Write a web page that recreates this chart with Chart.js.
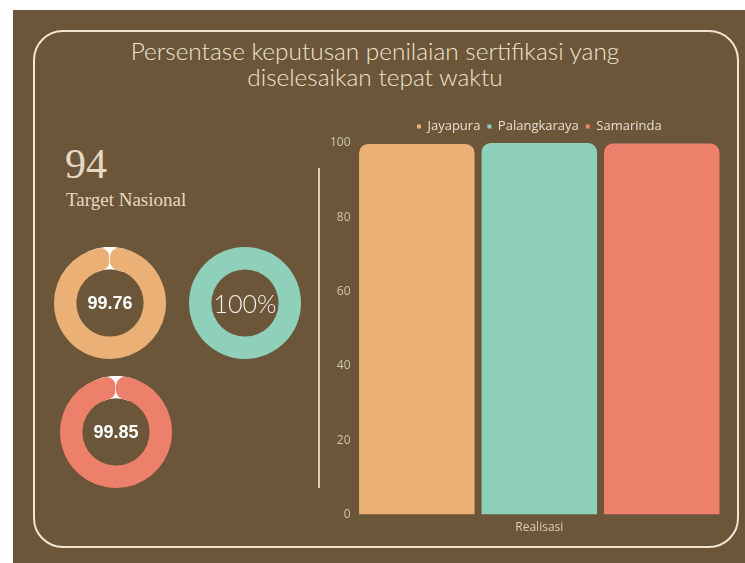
<!DOCTYPE html>
<html>
<head>
<meta charset="utf-8">
<script src="https://cdn.jsdelivr.net/npm/chart.js@4.4.1/dist/chart.umd.min.js"></script>
<style>
  html, body { margin: 0; padding: 0; background: #fff; }
  #panel { position: absolute; left: 13px; top: 10px; width: 732px; height: 553px; background: #6b563a; }
  #frame { position: absolute; left: 33px; top: 30px; width: 702px; height: 514px; border: 2px solid #efe6d3; border-radius: 30px; }
  #title { position: absolute; left: 40px; width: 670px; top: 38px; text-align: center; color: #efe4cf;
           font-family: Lato, sans-serif; font-weight: 300; font-size: 24.4px; line-height: 26px; }
  #target { position: absolute; left: 65px; top: 140px; color: #e6d8c2; font-family: "Liberation Serif", serif; font-size: 42px; }
  #targetLbl { position: absolute; left: 66px; top: 189px; color: #e6d8c2; font-family: "Liberation Serif", serif; font-size: 19px; }
  .donut { position: absolute; width: 112px; height: 112px; }
  .donut .lbl { position: absolute; left: 0; top: 0; width: 112px; line-height: 112px; text-align: center; color: #fff; }
  .bold { font-family: "Liberation Sans", Arial, sans-serif; font-weight: bold; font-size: 18px; }
  .thin { font-family: Lato, sans-serif; font-weight: 300; font-size: 25px; color: #f4efe6 !important; }
  #vline { position: absolute; left: 318px; top: 168px; width: 2px; height: 320px; background: #d9cfbd; }
  #barWrap { position: absolute; left: 300px; top: 113px; }
</style>
</head>
<body>
<div id="panel"></div>
<div id="frame"></div>
<div id="title">Persentase keputusan penilaian sertifikasi yang<br>diselesaikan tepat waktu</div>
<div id="target"></div>
<div id="targetLbl">Target Nasional</div>
<div id="vline"></div>
<div id="barWrap"><canvas id="bar" width="432" height="432"></canvas></div>
<script>
const cities = ['Jayapura', 'Palangkaraya', 'Samarinda'];
const realisasi = [99.76, 100, 99.85];
const centerLabels = ['99.76', '100%', '99.85'];
const category = ['Realisasi'];
const target = 94;
const yTicks = [0, 20, 40, 60, 80, 100];
const colors = ['#ebb075', '#8ed0b9', '#ed806a'];
const donutPos = [[54, 247], [189, 247], [60, 376]];

document.getElementById('target').textContent = target;

// white backdrop behind the gap of a doughnut ring
const gapFill = {
  id: 'gapFill',
  beforeDatasetsDraw(chart) {
    const meta = chart.getDatasetMeta(0);
    if (meta.data.length < 2 || chart.data.datasets[0].data[1] <= 0) return;
    const a = meta.data[0].getProps(['x', 'y', 'startAngle', 'endAngle', 'innerRadius', 'outerRadius']);
    const ctx = chart.ctx;
    ctx.save();
    ctx.fillStyle = '#ffffff';
    ctx.beginPath();
    ctx.arc(a.x, a.y, a.outerRadius, a.endAngle - 0.4, a.startAngle + Math.PI * 2 + 0.4);
    ctx.arc(a.x, a.y, a.innerRadius, a.startAngle + Math.PI * 2 + 0.4, a.endAngle - 0.4, true);
    ctx.closePath();
    ctx.fill();
    ctx.restore();
  }
};

cities.forEach((c, i) => {
  const box = document.createElement('div');
  box.className = 'donut';
  box.style.left = donutPos[i][0] + 'px';
  box.style.top = donutPos[i][1] + 'px';
  const cv = document.createElement('canvas');
  cv.width = 112; cv.height = 112;
  box.appendChild(cv);
  const lbl = document.createElement('div');
  lbl.className = 'lbl ' + (centerLabels[i].indexOf('%') >= 0 ? 'thin' : 'bold');
  lbl.textContent = centerLabels[i];
  box.appendChild(lbl);
  document.body.appendChild(box);

  const rest = Math.max(0, 100 - realisasi[i]);
  new Chart(cv, {
    type: 'doughnut',
    data: {
      labels: [c, ''],
      datasets: [{
        data: [realisasi[i], rest],
        backgroundColor: [colors[i], '#ffffff'],
        borderWidth: 0,
        borderRadius: rest > 0 ? [9, 0] : 0
      }]
    },
    options: {
      responsive: false,
      animation: false,
      events: [],
      cutout: '60%',
      plugins: { legend: { display: false }, tooltip: { enabled: false } }
    },
    plugins: [gapFill]
  });
});

new Chart(bar, {
  type: 'bar',
  data: {
    labels: category,
    datasets: cities.map((c, i) => ({
      label: c,
      data: [realisasi[i]],
      backgroundColor: colors[i],
      borderRadius: 9,
      barPercentage: 0.943,
      categoryPercentage: 1
    }))
  },
  options: {
    responsive: false,
    animation: false,
    events: [],
    layout: { padding: { left: 25, right: 9, top: 0, bottom: 4 } },
    plugins: {
      tooltip: { enabled: false },
      legend: {
        fullSize: false,
        labels: {
          color: '#e8dfcf',
          font: { family: 'Open Sans', size: 13 },
          boxWidth: 4, boxHeight: 4, padding: 7
        }
      }
    },
    scales: {
      x: {
        grid: { display: false, drawTicks: false }, border: { display: false },
        ticks: { color: '#d9cfbd', font: { family: 'Open Sans', size: 12 }, padding: 6 }
      },
      y: {
        min: 0, max: 100,
        afterBuildTicks: s => { s.ticks = yTicks.map(v => ({ value: v })); },
        grid: { display: false, drawTicks: false }, border: { display: false },
        ticks: { color: '#cfc4b0', font: { family: 'Open Sans', size: 12 }, padding: 5 }
      }
    }
  }
});
</script>
</body>
</html>
